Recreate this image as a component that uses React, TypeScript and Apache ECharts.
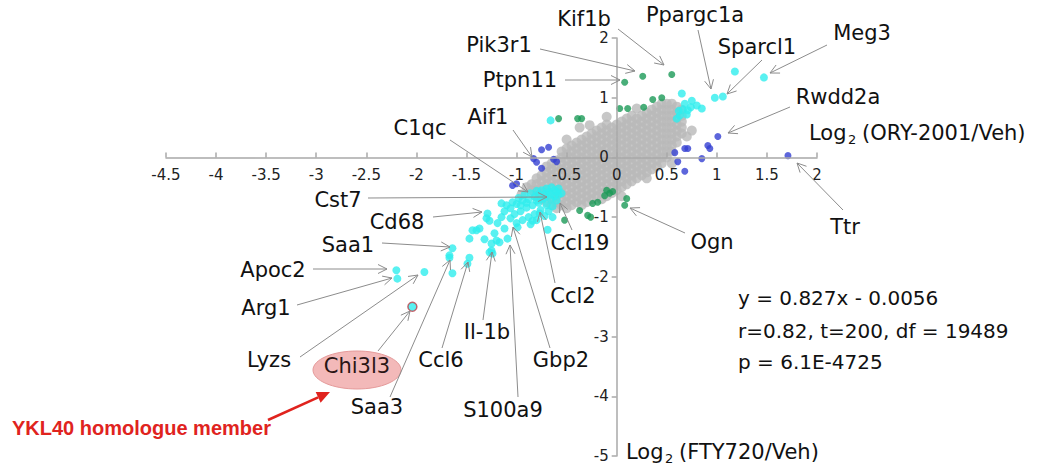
import React, { useEffect, useRef } from "react";
import * as echarts from "echarts";

// ---- data (log2 ratios: x = ORY-2001/Veh, y = FTY720/Veh) ----
const grayColumns: Array<[number, number[]]> = [
  [-0.85, [-0.55, -0.45]],
  [-0.8, [-0.65, -0.55, -0.45, -0.35]],
  [-0.75, [-0.7, -0.6, -0.5, -0.4, -0.3]],
  [-0.7, [-0.75, -0.65, -0.55, -0.45, -0.35, -0.25, -0.15]],
  [-0.65, [-0.8, -0.7, -0.6, -0.5, -0.4, -0.3, -0.2, -0.1]],
  [-0.6, [-0.85, -0.75, -0.65, -0.55, -0.45, -0.35, -0.25, -0.15, -0.05]],
  [-0.55, [-0.8, -0.7, -0.6, -0.5, -0.4, -0.3, -0.2, -0.1, 0, 0.1]],
  [-0.5, [-0.85, -0.75, -0.65, -0.55, -0.45, -0.35, -0.25, -0.15, -0.05, 0.05, 0.15]],
  [-0.45, [-0.8, -0.7, -0.6, -0.5, -0.4, -0.3, -0.2, -0.1, 0, 0.1, 0.2]],
  [-0.4, [-0.75, -0.65, -0.55, -0.45, -0.35, -0.25, -0.15, -0.05, 0.05, 0.15, 0.25]],
  [-0.35, [-0.8, -0.7, -0.6, -0.5, -0.4, -0.3, -0.2, -0.1, 0, 0.1, 0.2, 0.3]],
  [-0.3, [-0.75, -0.65, -0.55, -0.45, -0.35, -0.25, -0.15, -0.05, 0.05, 0.15, 0.25, 0.35]],
  [-0.25, [-0.7, -0.6, -0.5, -0.4, -0.3, -0.2, -0.1, 0, 0.1, 0.2, 0.3, 0.4]],
  [-0.2, [-0.65, -0.55, -0.45, -0.35, -0.25, -0.15, -0.05, 0.05, 0.15, 0.25, 0.35, 0.45]],
  [-0.15, [-0.7, -0.6, -0.5, -0.4, -0.3, -0.2, -0.1, 0, 0.1, 0.2, 0.3, 0.4, 0.5]],
  [-0.1, [-0.65, -0.55, -0.45, -0.35, -0.25, -0.15, -0.05, 0.05, 0.15, 0.25, 0.35, 0.45, 0.55]],
  [-0.05, [-0.6, -0.5, -0.4, -0.3, -0.2, -0.1, 0, 0.1, 0.2, 0.3, 0.4, 0.5]],
  [0, [-0.55, -0.45, -0.35, -0.25, -0.15, -0.05, 0.05, 0.15, 0.25, 0.35, 0.45, 0.55]],
  [0.05, [-0.5, -0.4, -0.3, -0.2, -0.1, 0, 0.1, 0.2, 0.3, 0.4, 0.5, 0.6]],
  [0.1, [-0.45, -0.35, -0.25, -0.15, -0.05, 0.05, 0.15, 0.25, 0.35, 0.45, 0.55, 0.65]],
  [0.15, [-0.4, -0.3, -0.2, -0.1, 0, 0.1, 0.2, 0.3, 0.4, 0.5, 0.6, 0.7]],
  [0.2, [-0.35, -0.25, -0.15, -0.05, 0.05, 0.15, 0.25, 0.35, 0.45, 0.55, 0.65]],
  [0.25, [-0.3, -0.2, -0.1, 0, 0.1, 0.2, 0.3, 0.4, 0.5, 0.6, 0.7]],
  [0.3, [-0.25, -0.15, -0.05, 0.05, 0.15, 0.25, 0.35, 0.45, 0.55, 0.65, 0.75]],
  [0.35, [-0.2, -0.1, 0, 0.1, 0.2, 0.3, 0.4, 0.5, 0.6, 0.7, 0.8]],
  [0.4, [-0.15, -0.05, 0.05, 0.15, 0.25, 0.35, 0.45, 0.55, 0.65, 0.75, 0.85]],
  [0.45, [-0.1, 0, 0.1, 0.2, 0.3, 0.4, 0.5, 0.6, 0.7, 0.8, 0.9]],
  [0.5, [0, 0.1, 0.2, 0.3, 0.4, 0.5, 0.6, 0.7, 0.8, 0.9]],
  [0.55, [0.1, 0.2, 0.3, 0.4, 0.5, 0.6, 0.7, 0.8, 0.9]],
  [0.6, [0.25, 0.35, 0.45, 0.55, 0.65, 0.75, 0.85]],
  [0.65, [0.4, 0.5, 0.6, 0.7, 0.8]],
];

const grayOutliers: number[][] = [
  [-0.37, 0.5], [-0.27, 0.54], [-0.5, 0.3], [-0.1, 0.68], [0.2, 0.82], [0.7, 0.35],
  [0.75, 0.45], [0.05, -0.65], [-0.9, -0.5], [-0.95, -0.62], [0.55, -0.1], [0.3, -0.35],
];

const greenPoints: number[][] = [
  [0.08, 1.26], [0.26, 1.36], [0.55, 1.39], [0.36, 0.97], [0.45, 1.0], [0.03, 0.82],
  [0.11, 0.82], [0.27, 0.84], [-0.58, 0.65], [-0.39, 0.65], [-0.35, 0.65],
  [-0.07, -0.6], [-0.04, -0.57], [-0.12, -0.64], [-0.19, -0.75], [-0.24, -0.77],
  [-0.37, -0.89], [-0.29, -0.97], [-0.26, -1.0], [-0.52, -1.05], [0.08, -0.8],
  [0.1, -0.69], [-0.1, -0.55],
];

const bluePoints: number[][] = [
  [-0.75, 0.13], [-0.68, 0.17], [-0.83, -0.02], [-0.8, -0.08], [-0.63, -0.03],
  [-0.6, -0.07], [-0.75, -0.18], [-1.04, -0.47], [-1.0, -0.44], [1.01, 0.35],
  [0.58, 0.08], [0.68, 0.15], [0.71, 0.15], [0.91, 0.2], [0.93, 0.15], [0.61, -0.07],
  [0.85, -0.02], [0.68, -0.23], [1.71, 0.03],
];

const cyanPoints: number[][] = [
  // upper-right group
  [0.65, 1.07], [0.75, 0.95], [0.8, 0.87], [0.85, 0.82], [0.63, 0.7], [0.6, 0.65],
  [0.71, 0.79], [0.68, 0.9], [0.66, 0.8], [0.74, 0.84], [0.62, 0.78], [0.7, 0.72],
  [0.98, 1.0], [1.06, 1.02], [1.18, 1.44], [1.47, 1.34], [-0.66, 0.62],
  // lower-left dense group
  [-0.58, -0.52], [-0.62, -0.55], [-0.58, -0.62], [-0.65, -0.5], [-0.68, -0.58],
  [-0.62, -0.65], [-0.7, -0.52], [-0.72, -0.62], [-0.66, -0.7], [-0.75, -0.55],
  [-0.78, -0.62], [-0.74, -0.7], [-0.8, -0.56], [-0.82, -0.66], [-0.78, -0.76],
  [-0.86, -0.6], [-0.88, -0.7], [-0.84, -0.8], [-0.92, -0.62], [-0.94, -0.72],
  [-0.9, -0.84], [-0.98, -0.68], [-1.0, -0.78], [-0.96, -0.9], [-1.04, -0.75],
  [-1.06, -0.85], [-1.02, -0.95], [-1.1, -0.8], [-1.12, -0.9], [-0.7, -0.8],
  [-0.76, -0.88], [-0.82, -0.95], [-0.88, -1.0], [-0.68, -0.9], [-0.6, -0.72],
  [-0.55, -0.6], [-0.64, -0.82], [-0.72, -0.98], [-0.8, -1.05], [-0.94, -1.05],
  [-1.0, -1.1], [-1.06, -1.02], [-1.15, -1.0], [-0.86, -1.12], [-0.77, -0.94],
  [-0.64, -1.0], [-0.84, -1.06], [-0.6, -0.58], [-0.66, -0.62], [-0.72, -0.68],
  [-0.8, -0.72], [-0.9, -0.76], [-0.96, -0.8],
  // lower-left tail
  [-1.15, -0.77], [-1.29, -0.94], [-1.3, -1.02], [-1.27, -1.06], [-1.19, -1.1],
  [-1.12, -1.19], [-1.37, -1.19], [-1.4, -1.22], [-1.44, -1.22], [-1.47, -1.36],
  [-1.32, -1.37], [-1.22, -1.27], [-1.17, -1.42], [-1.2, -1.39], [-1.25, -1.44],
  [-1.25, -1.56], [-1.24, -1.61], [-1.27, -1.59], [-1.09, -1.36], [-0.99, -1.17],
  [-0.69, -1.21], [-1.64, -1.52], [-1.67, -1.64], [-1.67, -1.68], [-1.47, -1.68],
  [-1.49, -1.78], [-1.64, -1.94], [-1.92, -1.92], [-2.2, -1.89], [-2.19, -2.03],
];

const chi3l3Point: number[][] = [[-2.04, -2.5]];

const equationLines = [
  "y = 0.827x - 0.0056",
  "r=0.82, t=200, df = 19489",
  "p = 6.1E-4725",
];

// annotation layout (pixel positions): label centre, arrow tail, arrow tip
const annotations: Array<{ t: string; tx: number; ty: number; a: number[]; b: number[] }> = [
  { t: "Kif1b", tx: 584, ty: 19, a: [618, 29], b: [664, 65] },
  { t: "Ppargc1a", tx: 695, ty: 15, a: [698, 30], b: [711, 89] },
  { t: "Pik3r1", tx: 499, ty: 45, a: [540, 49], b: [635, 71] },
  { t: "Ptpn11", tx: 520, ty: 80, a: [565, 80], b: [620, 80] },
  { t: "Sparcl1", tx: 757, ty: 47, a: [762, 60], b: [727, 94] },
  { t: "Meg3", tx: 862, ty: 33, a: [827, 45], b: [770, 73] },
  { t: "Rwdd2a", tx: 838, ty: 97, a: [790, 107], b: [728, 133] },
  { t: "Aif1", tx: 488, ty: 117, a: [513, 130], b: [532, 157] },
  { t: "C1qc", tx: 420, ty: 128, a: [450, 140], b: [528, 192] },
  { t: "Cst7", tx: 338, ty: 200, a: [368, 198], b: [547, 197] },
  { t: "Cd68", tx: 397, ty: 222, a: [433, 217], b: [482, 212] },
  { t: "Saa1", tx: 348, ty: 245, a: [382, 243], b: [450, 247] },
  { t: "Apoc2", tx: 273, ty: 270, a: [313, 269], b: [387, 269] },
  { t: "Arg1", tx: 266, ty: 308, a: [297, 305], b: [392, 278] },
  { t: "Lyzs", tx: 269, ty: 360, a: [300, 357], b: [418, 275] },
  { t: "Saa3", tx: 377, ty: 407, a: [390, 397], b: [450, 260] },
  { t: "Ccl6", tx: 441, ty: 360, a: [442, 348], b: [468, 262] },
  { t: "Il-1b", tx: 487, ty: 332, a: [483, 320], b: [492, 252] },
  { t: "S100a9", tx: 503, ty: 410, a: [518, 397], b: [510, 245] },
  { t: "Gbp2", tx: 561, ty: 360, a: [550, 348], b: [513, 227] },
  { t: "Ccl2", tx: 573, ty: 296, a: [555, 283], b: [540, 212] },
  { t: "Ccl19", tx: 580, ty: 243, a: [572, 230], b: [560, 203] },
  { t: "Ogn", tx: 712, ty: 242, a: [685, 233], b: [630, 208] },
  { t: "Ttr", tx: 845, ty: 227, a: [843, 210], b: [797, 163] },
];

const FONT = "DejaVu Sans";

// plot geometry
const GRID = { left: 166, right: 229, top: 38, bottom: 10 };
const X_MIN = -4.5;
const X_MAX = 2;
const Y_MIN = -5;
const Y_MAX = 2;

function arrowGraphics(a: number[], b: number[], color: string, width: number, headLen: number, headHalf: number, filled: boolean) {
  const dx = b[0] - a[0];
  const dy = b[1] - a[1];
  const len = Math.hypot(dx, dy) || 1;
  const ux = dx / len;
  const uy = dy / len;
  const px = -uy;
  const py = ux;
  const bx = b[0] - ux * headLen;
  const by = b[1] - uy * headLen;
  const p1 = [bx + px * headHalf, by + py * headHalf];
  const p2 = [bx - px * headHalf, by - py * headHalf];
  const els: any[] = [
    {
      type: "line",
      z: 50,
      silent: true,
      shape: { x1: a[0], y1: a[1], x2: filled ? bx : b[0], y2: filled ? by : b[1] },
      style: { stroke: color, lineWidth: width },
    },
  ];
  if (filled) {
    els.push({ type: "polygon", z: 50, silent: true, shape: { points: [p1, b, p2] }, style: { fill: color } });
  } else {
    els.push({
      type: "polyline",
      z: 50,
      silent: true,
      shape: { points: [p1, b, p2] },
      style: { stroke: color, lineWidth: width, fill: "none" },
    });
  }
  return els;
}

export default function App() {
  const ref = useRef<HTMLDivElement>(null);

  useEffect(() => {
    if (!ref.current) return;
    const W = 1046;
    const H = 466;
    const chart = echarts.init(ref.current, null, { renderer: "svg" });

    const grayData = grayColumns.flatMap(([x, ys]) => ys.map((y) => [x, y])).concat(grayOutliers);

    // axes cross at the origin: offset each axis from its default side to the zero of the other
    const plotW = W - GRID.left - GRID.right;
    const plotH = H - GRID.top - GRID.bottom;
    const xZeroOffset = -((0 - X_MIN) / (X_MAX - X_MIN)) * plotW;
    const yZeroOffset = -((0 - Y_MIN) / (Y_MAX - Y_MIN)) * plotH;

    const graphics: any[] = [];
    annotations.forEach((an) => {
      graphics.push(...arrowGraphics(an.a, an.b, "#8c8c8c", 1, 9, 4.5, false));
    });
    graphics.push({
      type: "ellipse",
      z: 40,
      silent: true,
      shape: { cx: 357, cy: 370, rx: 44, ry: 19 },
      style: { fill: "#f3b9b9", stroke: "#e59a9a", lineWidth: 1 },
    });
    graphics.push(...arrowGraphics([378, 351], [410, 311], "#8c8c8c", 1, 9, 4.5, false));
    annotations.forEach((an) => {
      graphics.push({
        type: "text",
        z: 60,
        silent: true,
        style: {
          text: an.t,
          x: an.tx,
          y: an.ty,
          align: "center",
          verticalAlign: "middle",
          fontSize: 21,
          fontFamily: FONT,
          fill: "#111",
        },
      });
    });
    graphics.push({
      type: "text",
      z: 60,
      silent: true,
      style: { text: "Chi3l3", x: 357, y: 366, align: "center", verticalAlign: "middle", fontSize: 21, fontFamily: FONT, fill: "#2a1515" },
    });
    graphics.push(...arrowGraphics([268, 420], [330, 392], "#e0231e", 2.5, 13, 6, true));
    graphics.push({
      type: "text",
      z: 60,
      silent: true,
      style: {
        text: "YKL40 homologue member",
        x: 12,
        y: 428,
        align: "left",
        verticalAlign: "middle",
        fontSize: 20,
        fontWeight: "bold",
        fontFamily: "Liberation Sans",
        fill: "#e0231e",
      },
    });
    equationLines.forEach((line, i) => {
      graphics.push({
        type: "text",
        z: 60,
        silent: true,
        style: {
          text: line,
          x: 738,
          y: [298, 331, 362][i],
          align: "left",
          verticalAlign: "middle",
          fontSize: 20,
          fontFamily: FONT,
          fill: "#111",
        },
      });
    });
    const axisTitle = (x: number, y: number, rest: string) => [
      { type: "text", z: 60, silent: true, style: { text: "Log", x, y, align: "left", verticalAlign: "middle", fontSize: 21, fontFamily: FONT, fill: "#111" } },
      { type: "text", z: 60, silent: true, style: { text: "2", x: x + 39, y: y + 6, align: "left", verticalAlign: "middle", fontSize: 13, fontFamily: FONT, fill: "#111" } },
      { type: "text", z: 60, silent: true, style: { text: rest, x: x + 53, y, align: "left", verticalAlign: "middle", fontSize: 21, fontFamily: FONT, fill: "#111" } },
    ];
    graphics.push(...axisTitle(809, 133, "(ORY-2001/Veh)"));
    graphics.push(...axisTitle(626, 452, "(FTY720/Veh)"));

    const axisColor = "#a8a8a8";

    chart.setOption({
      animation: false,
      backgroundColor: "#ffffff",
      grid: { left: GRID.left, right: GRID.right, top: GRID.top, bottom: GRID.bottom, containLabel: false },
      xAxis: {
        type: "value",
        min: X_MIN,
        max: X_MAX,
        interval: 0.5,
        position: "bottom",
        offset: yZeroOffset,
        z: 10,
        splitLine: { show: false },
        axisLine: { onZero: false, lineStyle: { color: axisColor, width: 1.5 } },
        axisTick: { show: true, inside: true, length: 5, lineStyle: { color: axisColor, width: 1.5 } },
        axisLabel: { fontSize: 15, fontFamily: FONT, color: "#222", margin: 10 },
      },
      yAxis: {
        type: "value",
        min: Y_MIN,
        max: Y_MAX,
        interval: 1,
        position: "left",
        offset: xZeroOffset,
        z: 10,
        splitLine: { show: false },
        axisLine: { onZero: false, lineStyle: { color: axisColor, width: 1.5 } },
        axisTick: { show: true, inside: false, length: 5, lineStyle: { color: axisColor, width: 1.5 } },
        axisLabel: { fontSize: 15, fontFamily: FONT, color: "#222", margin: 8 },
      },
      series: [
        { type: "scatter", name: "gray", data: grayData, symbolSize: 10, itemStyle: { color: "#b9b9b9" }, silent: true, z: 2 },
        { type: "scatter", name: "green", data: greenPoints, symbolSize: 7, itemStyle: { color: "#1b9a57" }, silent: true, z: 3 },
        { type: "scatter", name: "blue", data: bluePoints, symbolSize: 7, itemStyle: { color: "#3440d2" }, silent: true, z: 3 },
        { type: "scatter", name: "cyan", data: cyanPoints, symbolSize: 8, itemStyle: { color: "#30eeee" }, silent: true, z: 4 },
        {
          type: "scatter",
          name: "chi3l3",
          data: chi3l3Point,
          symbolSize: 9,
          itemStyle: { color: "#30eeee", borderColor: "#c0404a", borderWidth: 1.5 },
          silent: true,
          z: 5,
        },
      ],
      graphic: graphics,
    });

    return () => chart.dispose();
  }, []);

  return (
    <div
      ref={ref}
      style={{ position: "absolute", left: 0, top: 0, width: 1046, height: 466, background: "#fff" }}
    />
  );
}
